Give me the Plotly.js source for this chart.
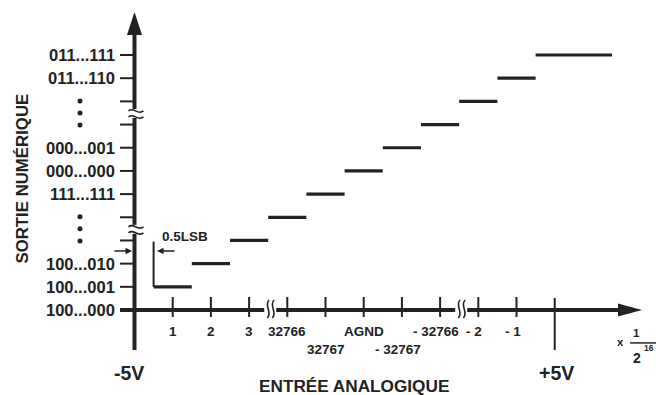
<!DOCTYPE html>
<html><head><meta charset="utf-8">
<script src="https://cdn.plot.ly/plotly-3.0.1.min.js"></script>
<style>html,body{margin:0;padding:0;background:#fff}</style>
</head><body><div id="chart" style="width:656px;height:395px"></div>
<script>
// ---- data ----
const xTickPos    = [1, 2, 3, 4, 5, 6, 7, 8, 9, 10];
const xTickLabels = ['1', '2', '3', '32766', '32767', 'AGND', '- 32767', '- 32766', '- 2', '- 1'];
const xTickRow    = [0, 0, 0, 0, 1, 0, 1, 0, 0, 0];
const yTickPos    = [0, 1, 2, 3, 4, 5, 6, 7, 8, 9, 10, 11];
const yTickLabels = ['100...000', '100...001', '100...010', '', '', '111...111', '000...000', '000...001', '', '', '011...110', '011...111'];
const stepStart   = [0, 0.5, 1.5, 2.5, 3.5, 4.5, 5.5, 6.5, 7.5, 8.5, 9.5, 10.5];
const stepEnd     = [0.5, 1.5, 2.5, 3.5, 4.5, 5.5, 6.5, 7.5, 8.5, 9.5, 10.5, 12.5];
const stepLevel   = [0, 1, 2, 3, 4, 5, 6, 7, 8, 9, 10, 11];
const xBreaks     = [3.5, 8.5];
const yBreaks     = [3.5, 8.5];
const zeroScale   = {pos: 0, label: '-5V'};
const fullScale   = {pos: 11, label: '+5V'};
const halfLsb     = {pos: 0.5, label: '0.5LSB'};

// ---- style ----
const INK = '#222';
const FONT = 'Liberation Sans, Arial, Helvetica, sans-serif';

const stepX = [], stepY = [];
for (let i = 0; i < stepLevel.length; i++) {
  stepX.push(stepStart[i], stepEnd[i], null);
  stepY.push(stepLevel[i], stepLevel[i], null);
}
const xtX = [], xtY = [];
xTickPos.forEach(u => { xtX.push(u, u, null); xtY.push(0.56, -0.30, null); });
const ytX = [], ytY = [];
yTickPos.forEach(l => { if (l > 0) { ytX.push(-0.38, 0, null); ytY.push(l, l, null); } });
const dotX = [], dotY = [];
yBreaks.forEach(b => { [-0.52, 0, 0.52].forEach(d => { dotX.push(-1.427); dotY.push(b + d); }); });

const traces = [
  {x: stepX, y: stepY, mode: 'lines', line: {color: INK, width: 3.2}, hoverinfo: 'skip'},
  {x: xtX, y: xtY, mode: 'lines', line: {color: INK, width: 2}, hoverinfo: 'skip'},
  {x: ytX, y: ytY, mode: 'lines', line: {color: INK, width: 2}, hoverinfo: 'skip'},
  {x: [fullScale.pos, fullScale.pos], y: [0.52, -1.726], mode: 'lines', line: {color: INK, width: 2}, hoverinfo: 'skip'},
  {x: dotX, y: dotY, mode: 'markers', marker: {color: INK, size: 5}, hoverinfo: 'skip'}
];

const shapes = [
  // axes
  {type: 'line', xref: 'x', yref: 'y', x0: -0.38, x1: 12.8, y0: 0, y1: 0, line: {color: INK, width: 4}},
  {type: 'line', xref: 'x', yref: 'y', x0: 0, x1: 0, y0: -1.726, y1: 12.3, line: {color: INK, width: 4}},
  // 0.5 LSB dimension line
  {type: 'line', xref: 'x', yref: 'y', x0: halfLsb.pos, x1: halfLsb.pos, y0: 1, y1: 2.95, line: {color: INK, width: 2}},
  // arrowheads
  {type: 'path', xref: 'x', yref: 'y', xsizemode: 'pixel', ysizemode: 'pixel', xanchor: 13.285, yanchor: 0,
   path: 'M 0 0 L -24 6.5 L -24 -6.5 Z', fillcolor: INK, line: {width: 0}},
  {type: 'path', xref: 'x', yref: 'y', xsizemode: 'pixel', ysizemode: 'pixel', xanchor: 0, yanchor: 12.856,
   path: 'M 0 0 L -7.5 -23 L 7.5 -23 Z', fillcolor: INK, line: {width: 0}},
  {type: 'line', xref: 'x', yref: 'y', x0: 12.97, x1: 13.66, y0: -1.42, y1: -1.42, line: {color: INK, width: 1.5}}
];
xBreaks.forEach(b => {
  shapes.push({type: 'path', xref: 'x', yref: 'y', xsizemode: 'pixel', ysizemode: 'pixel', xanchor: b, yanchor: 0,
    path: 'M -4 -3.5 L 8 -3.5 L 8 3.5 L -4 3.5 Z', fillcolor: '#fff', line: {width: 0}});
  shapes.push({type: 'path', xref: 'x', yref: 'y', xsizemode: 'pixel', ysizemode: 'pixel', xanchor: b, yanchor: 0,
    path: 'M 1 10 C -5 5, 5 -3, -1 -8', line: {color: INK, width: 1.6}});
  shapes.push({type: 'path', xref: 'x', yref: 'y', xsizemode: 'pixel', ysizemode: 'pixel', xanchor: b, yanchor: 0,
    path: 'M 6 10 C 0 5, 10 -3, 4 -8', line: {color: INK, width: 1.6}});
});
yBreaks.forEach(b => {
  shapes.push({type: 'path', xref: 'x', yref: 'y', xsizemode: 'pixel', ysizemode: 'pixel', xanchor: 0, yanchor: b,
    path: 'M -4 -5 L 4 -5 L 4 4 L -4 4 Z', fillcolor: '#fff', line: {width: 0}});
  shapes.push({type: 'path', xref: 'x', yref: 'y', xsizemode: 'pixel', ysizemode: 'pixel', xanchor: 0, yanchor: b,
    path: 'M -6 2 C -1 7, 3 -3, 9 2', line: {color: INK, width: 1.6}});
  shapes.push({type: 'path', xref: 'x', yref: 'y', xsizemode: 'pixel', ysizemode: 'pixel', xanchor: 0, yanchor: b,
    path: 'M -6 -4 C -1 1, 3 -9, 9 -4', line: {color: INK, width: 1.6}});
});

const ann = [];
yTickPos.forEach((l, i) => {
  if (!yTickLabels[i]) return;
  ann.push({x: -0.46, y: l, xref: 'x', yref: 'y', xanchor: 'right', yanchor: 'middle', showarrow: false,
    text: yTickLabels[i], font: {family: FONT, size: 16.5, color: INK, weight: 'bold'}});
});
xTickPos.forEach((u, i) => {
  ann.push({x: u, y: xTickRow[i] ? -1.704 : -0.906, xref: 'x', yref: 'y', xanchor: 'center', yanchor: 'middle',
    xshift: xTickLabels[i].startsWith('- ') ? -4 : 0, showarrow: false,
    text: xTickLabels[i], font: {family: FONT, size: 13.5, color: INK, weight: 'bold'}});
});
ann.push({x: zeroScale.pos, y: -2.718, xref: 'x', yref: 'y', xshift: -6, showarrow: false, text: zeroScale.label,
  font: {family: FONT, size: 19.5, color: INK, weight: 'bold'}});
ann.push({x: fullScale.pos, y: -2.718, xref: 'x', yref: 'y', xshift: 2, showarrow: false, text: fullScale.label,
  font: {family: FONT, size: 19.5, color: INK, weight: 'bold'}});
ann.push({x: 5.746, y: -3.279, xref: 'x', yref: 'y', showarrow: false, text: 'ENTRÉE ANALOGIQUE',
  font: {family: FONT, size: 17.2, color: INK, weight: 'bold'}});
ann.push({x: -2.945, y: 5.673, xref: 'x', yref: 'y', showarrow: false, textangle: -90, text: 'SORTIE NUMÉRIQUE',
  font: {family: FONT, size: 16.8, color: INK, weight: 'bold'}});
ann.push({x: 1.322, y: 3.19, xref: 'x', yref: 'y', showarrow: false, text: halfLsb.label,
  font: {family: FONT, size: 13.5, color: INK, weight: 'bold'}});
// 0.5 LSB arrows
ann.push({x: -0.065, y: 2.545, ax: -0.563, ay: 2.545, axref: 'x', ayref: 'y', xref: 'x', yref: 'y', text: '',
  showarrow: true, arrowhead: 2, arrowsize: 1, arrowwidth: 1.3, arrowcolor: INK});
ann.push({x: 0.59, y: 2.545, ax: 1.086, ay: 2.545, axref: 'x', ayref: 'y', xref: 'x', yref: 'y', text: '',
  showarrow: true, arrowhead: 2, arrowsize: 1, arrowwidth: 1.3, arrowcolor: INK});
// x 1/2^16 unit
ann.push({x: 12.71, y: -1.40, xref: 'x', yref: 'y', showarrow: false, text: 'x',
  font: {family: FONT, size: 11.5, color: INK, weight: 'bold'}});
ann.push({x: 13.13, y: -0.98, xref: 'x', yref: 'y', showarrow: false, text: '1',
  font: {family: FONT, size: 11.5, color: INK, weight: 'bold'}});
ann.push({x: 13.16, y: -2.07, xref: 'x', yref: 'y', showarrow: false, text: '2',
  font: {family: FONT, size: 14, color: INK, weight: 'bold'}});
ann.push({x: 13.48, y: -1.64, xref: 'x', yref: 'y', showarrow: false, text: '16',
  font: {family: FONT, size: 8.5, color: INK, weight: 'bold'}});

const layout = {
  width: 656, height: 395,
  margin: {l: 0, r: 0, t: 0, b: 0, pad: 0},
  paper_bgcolor: '#fff', plot_bgcolor: '#fff',
  showlegend: false,
  xaxis: {range: [-3.52094, 13.6518], visible: false, fixedrange: true},
  yaxis: {range: [-3.66695, 13.3736], visible: false, fixedrange: true},
  shapes: shapes,
  annotations: ann
};
Plotly.newPlot('chart', traces, layout, {staticPlot: true, displayModeBar: false});
</script>
</body></html>
